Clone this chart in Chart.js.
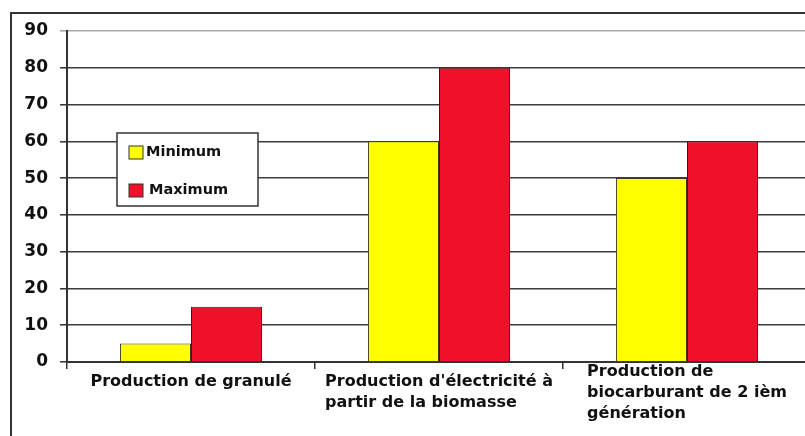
<!DOCTYPE html>
<html>
<head>
<meta charset="utf-8">
<script src="https://cdn.jsdelivr.net/npm/chart.js@4"></script>
<style>
  html, body { margin: 0; padding: 0; background: #fff; overflow: hidden; }
  canvas { display: block; }
</style>
</head>
<body>
<canvas id="bar_chart" width="820" height="436"></canvas>
<script>
// Data
const categories = [
	["Production de granulé"],
	["Production d'électricité à", "partir de la biomasse"],
	["Production de", "biocarburant de 2 ièm", "génération"]
];
const minimum_values = [5, 60, 50];
const maximum_values = [15, 80, 60];
const y_ticks = [0, 10, 20, 30, 40, 50, 60, 70, 80, 90];

const text_color = "#111";
const font_family = "'DejaVu Sans', Verdana, sans-serif";

// White page + outer frame
const framePlugin = {
	id: "frame",
	beforeDraw(chart){
		const c = chart.ctx;
		c.save();
		c.fillStyle = "#fff";
		c.fillRect(0, 0, chart.width, chart.height);
		c.strokeStyle = "#333";
		c.lineWidth = 2;
		c.strokeRect(11, 13, 1000, 1000);
		c.restore();
	}
};

// Category labels: block centered, lines left aligned
const xLabelsPlugin = {
	id: "xLabels",
	afterDraw(chart){
		const c = chart.ctx;
		const x = chart.scales.x;
		c.save();
		c.font = "bold 16px " + font_family;
		c.fillStyle = text_color;
		c.textAlign = "left";
		c.textBaseline = "middle";
		categories.forEach((lines, i) => {
			const cx = x.getPixelForValue(i);
			const w = Math.max(...lines.map(l => c.measureText(l).width));
			let y = x.top + 20 - Math.max(0, lines.length - 2) * 10;
			lines.forEach(l => {
				c.fillText(l, cx - w / 2, y);
				y += 21;
			});
		});
		c.restore();
	}
};

// Boxed legend inside the plot
const legendBoxPlugin = {
	id: "legendBox",
	afterDraw(chart){
		const c = chart.ctx;
		c.save();
		c.fillStyle = "#fff";
		c.fillRect(117, 133, 141, 73);
		c.strokeStyle = "#333";
		c.lineWidth = 1.5;
		c.strokeRect(117, 133, 141, 73);
		c.font = "bold 14.5px " + font_family;
		c.textBaseline = "middle";
		c.textAlign = "left";
		chart.data.datasets.forEach((ds, i) => {
			const y = 152 + i * 38;
			c.fillStyle = ds.backgroundColor;
			c.fillRect(129, y - 6, 14, 13);
			c.strokeStyle = "#333";
			c.lineWidth = 1;
			c.strokeRect(129, y - 6, 14, 13);
			c.fillStyle = text_color;
			c.fillText(ds.label, 146 + i * 3, y);
		});
		c.restore();
	}
};

const ctx = document.getElementById("bar_chart").getContext("2d");

new Chart(ctx, {
	type: "bar",
	data: {
		labels: categories,
		datasets: [
			{
				label: "Minimum",
				data: minimum_values,
				backgroundColor: "#ffff00",
				borderColor: "#3a3a1a",
				borderWidth: 1
			},
			{
				label: "Maximum",
				data: maximum_values,
				backgroundColor: "#f0102a",
				borderColor: "#3a1a1a",
				borderWidth: 1
			}
		]
	},
	options: {
		responsive: false,
		animation: false,
		devicePixelRatio: 1,
		layout: { padding: { top: 31, right: 9, bottom: 0, left: 0 } },
		datasets: { bar: { categoryPercentage: 0.573, barPercentage: 1 } },
		plugins: {
			legend: { display: false },
			tooltip: { enabled: false }
		},
		scales: {
			x: {
				afterFit(scale){ scale.height = 74; },
				ticks: { display: false },
				grid: {
					drawOnChartArea: false,
					drawTicks: true,
					tickLength: 7,
					color: "#333",
					lineWidth: 1.5
				},
				border: { color: "#333", width: 2 }
			},
			y: {
				min: 0,
				max: 90,
				afterFit(scale){ scale.width = 67; },
				afterBuildTicks(scale){ scale.ticks = y_ticks.map(v => ({ value: v })); },
				ticks: {
					padding: 12,
					color: text_color,
					font: { family: font_family, size: 17, weight: "bold" }
				},
				grid: {
					tickLength: 7,
					color: c => (c.tick && c.tick.value === 90) ? "#a8a8a8" : "#3c3c3c",
					lineWidth: 1.6
				},
				border: { color: "#333", width: 2 }
			}
		}
	},
	plugins: [framePlugin, xLabelsPlugin, legendBoxPlugin]
});
</script>
</body>
</html>
